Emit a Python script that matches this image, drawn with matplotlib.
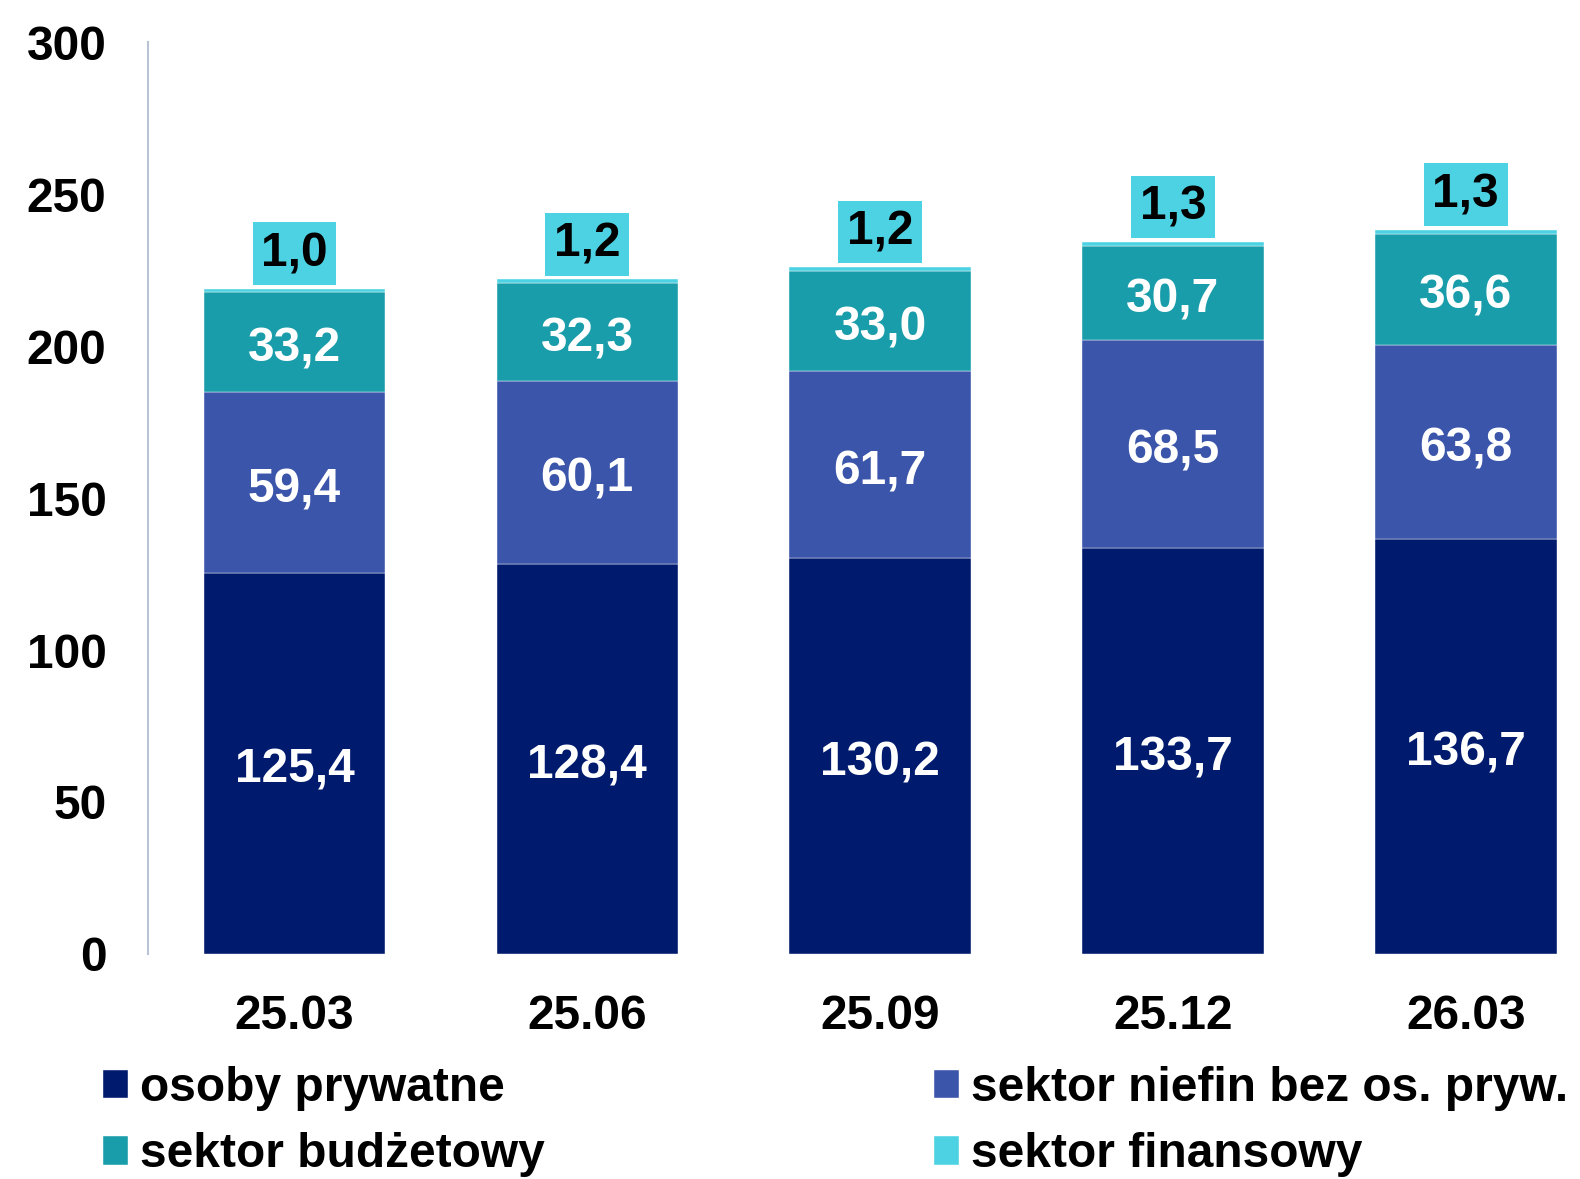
import matplotlib
matplotlib.use('Agg')
import matplotlib.pyplot as plt
import numpy as np

plt.rcParams['font.family'] = ['Liberation Sans', 'DejaVu Sans']
plt.rcParams['font.weight'] = 'bold'

# dane
kwartaly = ['25.03', '25.06', '25.09', '25.12', '26.03']
osoby_prywatne = [125.4, 128.4, 130.2, 133.7, 136.7]
sektor_niefin = [59.4, 60.1, 61.7, 68.5, 63.8]
sektor_budzetowy = [33.2, 32.3, 33.0, 30.7, 36.6]
sektor_finansowy = [1.0, 1.2, 1.2, 1.3, 1.3]

serie = [
    ('osoby prywatne', osoby_prywatne, '#001A6E'),
    ('sektor niefin bez os. pryw.', sektor_niefin, '#3A55AA'),
    ('sektor budżetowy', sektor_budzetowy, '#1A9DAA'),
    ('sektor finansowy', sektor_finansowy, '#4DD2E3'),
]

fig = plt.figure(figsize=(15.8, 11.79), dpi=100)
ax = fig.add_axes([0.0937, 0.191, 0.9063, 0.773])

x = np.arange(len(kwartaly))
dol = np.zeros(len(kwartaly))
uchwyty = []
for nazwa, wartosci, kolor in serie:
    wartosci = np.array(wartosci)
    b = ax.bar(x, wartosci, 0.62, bottom=dol, color=kolor, label=nazwa,
               edgecolor='white', linewidth=0.3)
    uchwyty.append(b)
    if nazwa != 'sektor finansowy':
        for xi, d, v in zip(x, dol, wartosci):
            ax.annotate(f'{v:.1f}'.replace('.', ','), xy=(xi, d + v / 2), xytext=(0, -5),
                        textcoords='offset points', ha='center', va='center',
                        color='white', fontsize=34.5, fontweight='bold')
    else:
        for xi, d, v in zip(x, dol, wartosci):
            ax.annotate(f'{v:.1f}'.replace('.', ','), xy=(xi, d + v), xytext=(0, 9),
                        textcoords='offset points', ha='center', va='bottom',
                        fontsize=34.5, fontweight='bold', color='black',
                        bbox=dict(boxstyle='square,pad=0.18', fc=kolor, ec='none'))
    dol += wartosci

ax.set_ylim(0, 300)
ax.set_xlim(-0.5, 4.39)
ax.set_yticks([0, 50, 100, 150, 200, 250, 300])
ax.set_xticks(x)
ax.set_xticklabels(kwartaly)
ax.tick_params(axis='y', length=0, pad=30, labelsize=34.5)
ax.tick_params(axis='x', length=0, pad=29, labelsize=34.5)
for lab in ax.get_xticklabels() + ax.get_yticklabels():
    lab.set_fontweight('bold')
for s in ['top', 'right', 'bottom']:
    ax.spines[s].set_visible(False)
ax.spines['left'].set_color('#B8C4D4')
ax.spines['left'].set_linewidth(1.5)

# legenda: wiersz 1 - osoby, niefin; wiersz 2 - budżetowy, finansowy
kolejnosc = [0, 2, 1, 3]
fig.legend([uchwyty[i] for i in kolejnosc], [serie[i][0] for i in kolejnosc],
           ncol=2, loc='upper left', bbox_to_anchor=(0.065, 0.096),
           frameon=False, handlelength=0.53, handleheight=0.53,
           handletextpad=0.25, columnspacing=8.12, labelspacing=0.45,
           borderaxespad=0, borderpad=0, prop={'weight': 'bold', 'size': 34.5})

fig.savefig('out.png', dpi=100)
